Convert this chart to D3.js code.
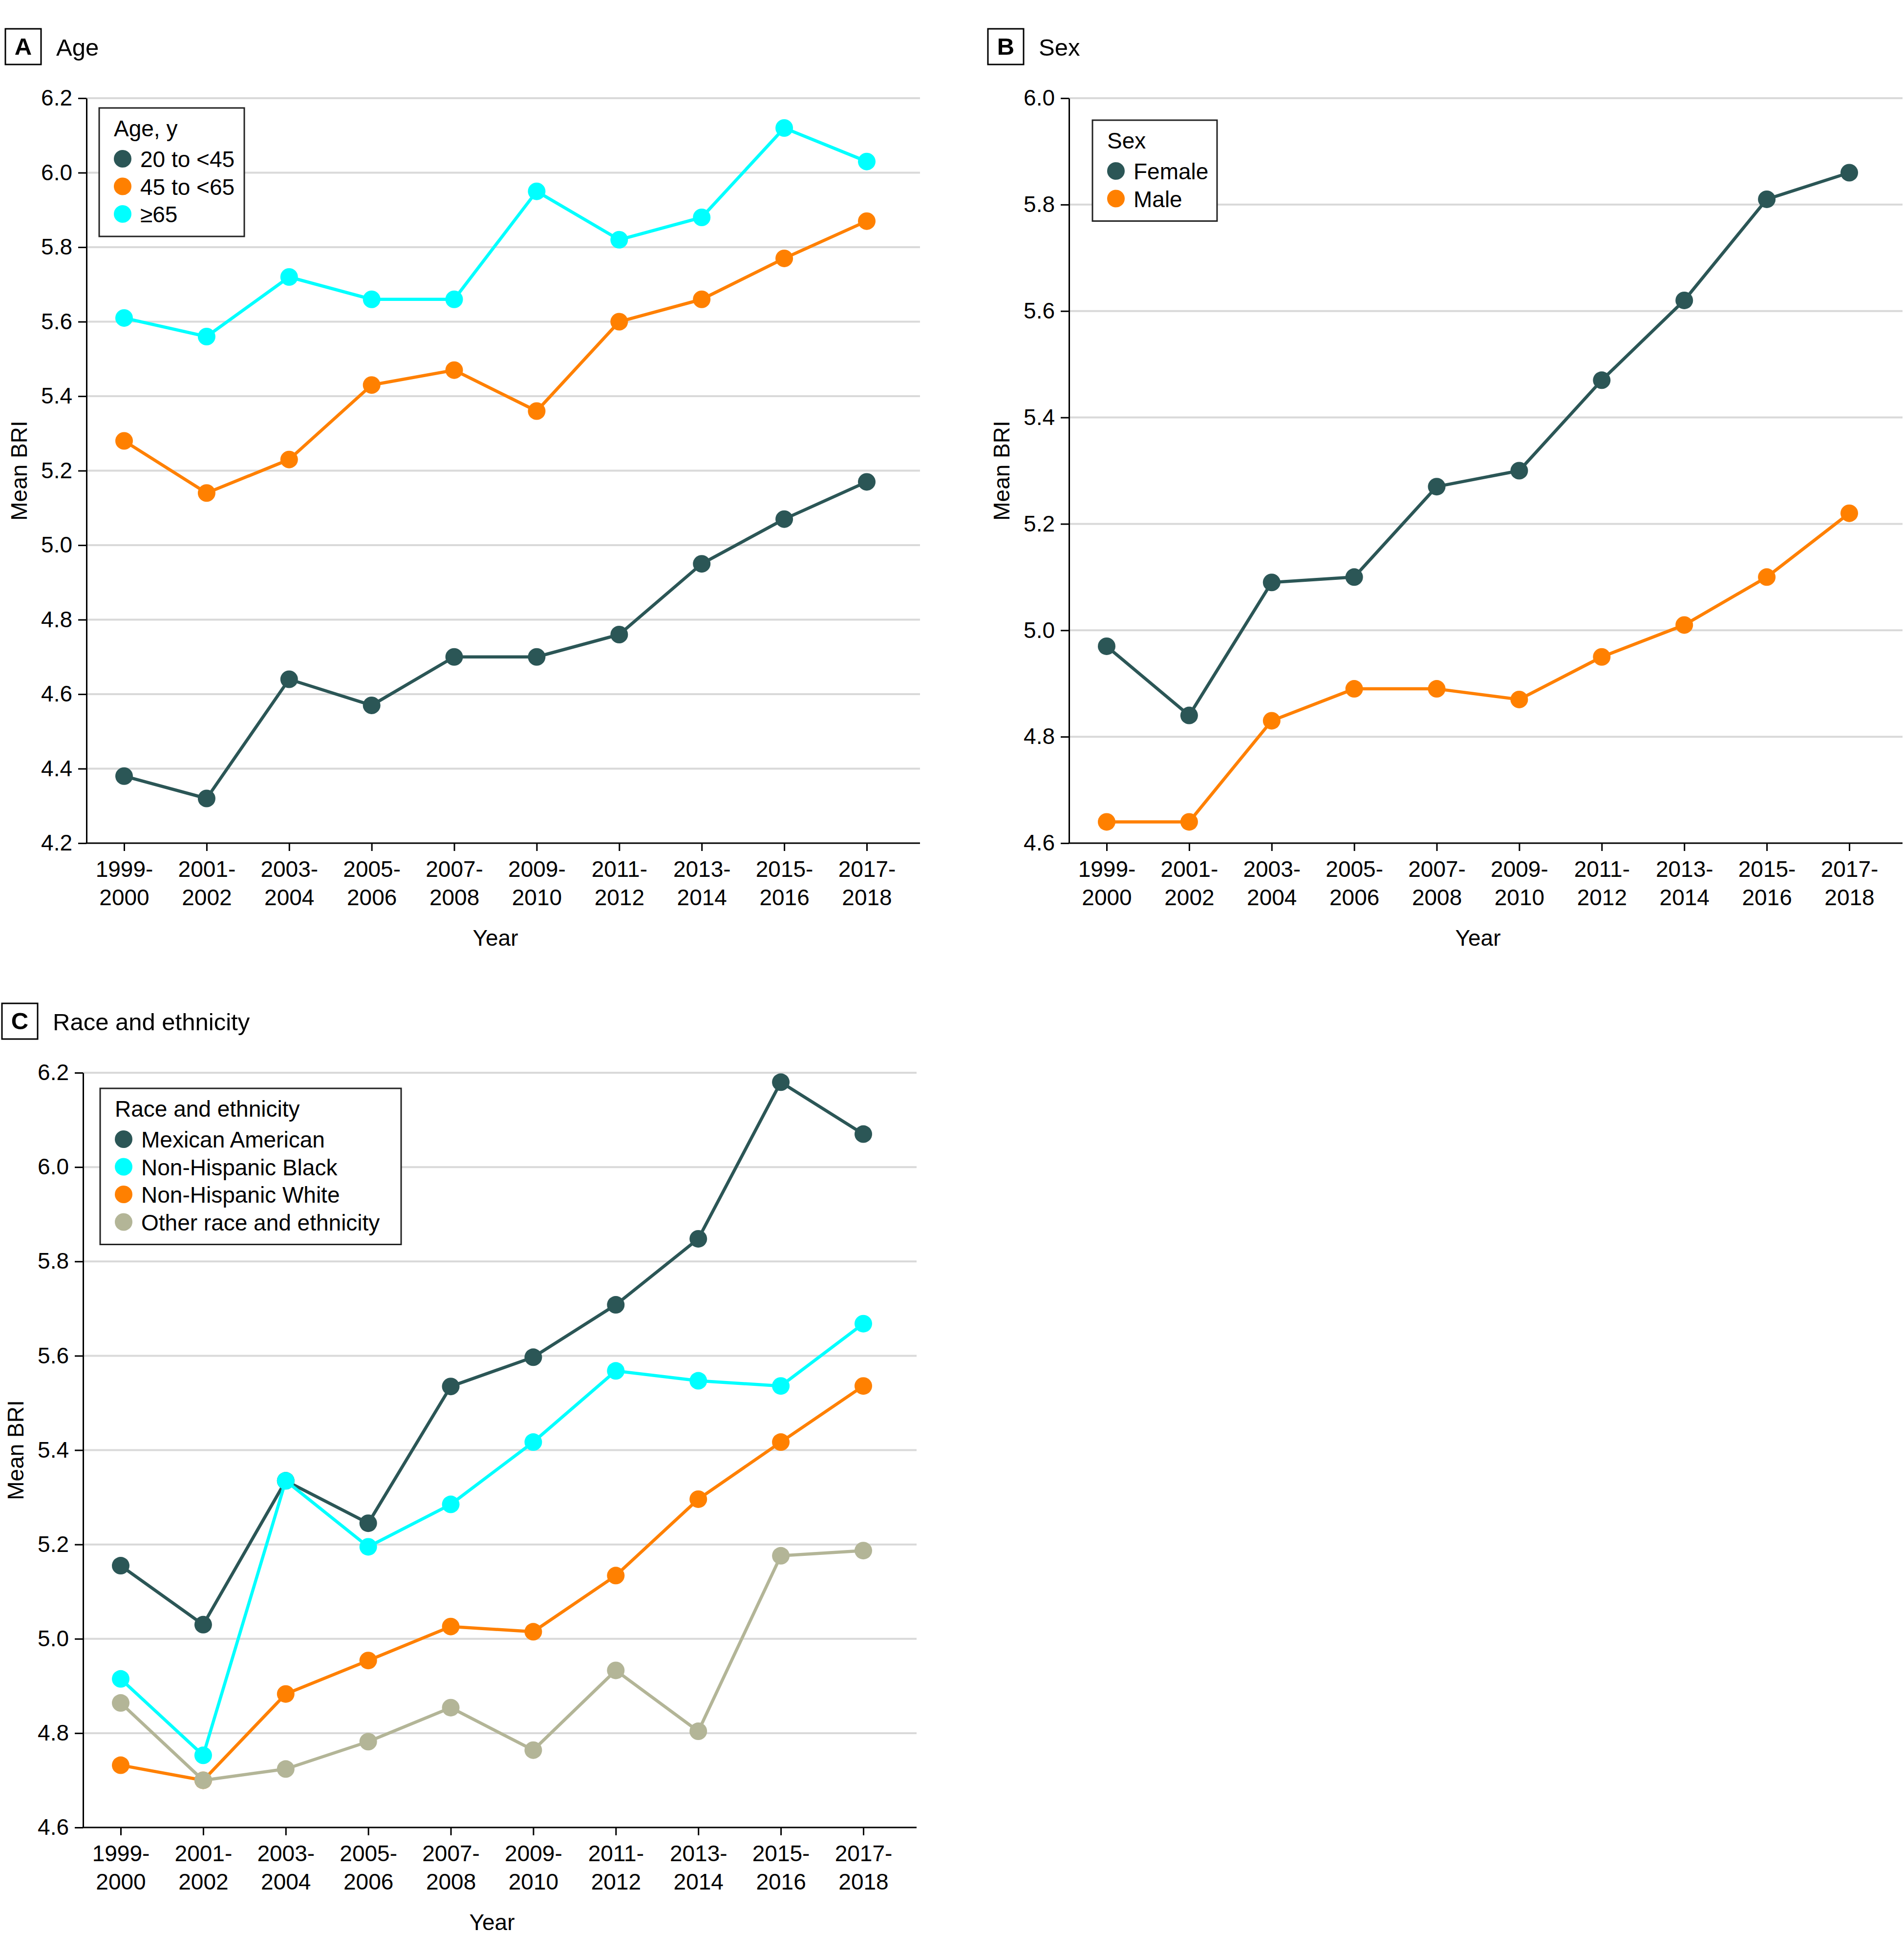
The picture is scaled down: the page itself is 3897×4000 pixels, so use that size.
<!DOCTYPE html>
<html><head><meta charset="utf-8">
<script src="https://cdn.jsdelivr.net/npm/d3@7"></script>
<style>
body{margin:0;background:#fff;}
svg text{font-family:"Liberation Sans", Arial, sans-serif; fill:#000;}
</style></head><body>
<svg id="chart" width="3897" height="4000"></svg>
<script>
// ---------- DATA ----------
const categories = ["1999-2000","2001-2002","2003-2004","2005-2006","2007-2008","2009-2010","2011-2012","2013-2014","2015-2016","2017-2018"];

// Panel A: Age
const ageNames = ["20 to <45","45 to <65","\u226565"];
const age20to45 = [4.38,4.32,4.64,4.57,4.70,4.70,4.76,4.95,5.07,5.17];
const age45to65 = [5.28,5.14,5.23,5.43,5.47,5.36,5.60,5.66,5.77,5.87];
const age65plus = [5.61,5.56,5.72,5.66,5.66,5.95,5.82,5.88,6.12,6.03];
const yTicksA = [4.2,4.4,4.6,4.8,5.0,5.2,5.4,5.6,5.8,6.0,6.2];

// Panel B: Sex
const sexNames = ["Female","Male"];
const female = [4.97,4.84,5.09,5.10,5.27,5.30,5.47,5.62,5.81,5.86];
const male   = [4.64,4.64,4.83,4.89,4.89,4.87,4.95,5.01,5.10,5.22];
const yTicksB = [4.6,4.8,5.0,5.2,5.4,5.6,5.8,6.0];

// Panel C: Race and ethnicity
const raceNames = ["Mexican American","Non-Hispanic Black","Non-Hispanic White","Other race and ethnicity"];
const mexicanAmerican  = [5.155,5.03,5.335,5.245,5.535,5.597,5.708,5.848,6.18,6.07];
const nonHispanicBlack = [4.915,4.753,5.335,5.195,5.285,5.417,5.568,5.547,5.536,5.668];
const nonHispanicWhite = [4.732,4.70,4.883,4.954,5.026,5.015,5.134,5.296,5.417,5.536];
const otherRace        = [4.864,4.70,4.724,4.782,4.854,4.764,4.933,4.804,5.176,5.187];
const yTicksC = [4.6,4.8,5.0,5.2,5.4,5.6,5.8,6.0,6.2];

// ---------- STYLE ----------
const DARK = "#2b5656", ORANGE = "#ff8000", CYAN = "#00ffff", KHAKI = "#b3b597";
const FS = 46, TITLE_FS = 49;

const svg = d3.select("#chart");

function drawPanel(p){
  const g = svg.append("g");
  const x = d3.scalePoint().domain(categories).range([p.left + 77, p.right - 109]);
  const y = d3.scaleLinear().domain(p.yDomain).range([p.bottom, p.top]);

  // gridlines
  g.append("g").selectAll("line").data(p.yTicks.filter(t => t > p.yDomain[0] + 1e-9)).join("line")
    .attr("x1", p.left).attr("x2", p.right)
    .attr("y1", d => y(d)).attr("y2", d => y(d))
    .attr("stroke", "#d9d9d9").attr("stroke-width", 4);

  // y axis
  const ya = g.append("g").attr("transform", `translate(${p.left},0)`)
    .call(d3.axisLeft(y).tickValues(p.yTicks).tickFormat(d3.format(".1f"))
      .tickSize(17).tickPadding(12).tickSizeOuter(0));
  ya.attr("font-size", null).attr("font-family", null);
  ya.select(".domain").attr("stroke", "#000").attr("stroke-width", 3);
  ya.selectAll(".tick line").attr("stroke", "#000").attr("stroke-width", 3);
  ya.selectAll(".tick text").attr("font-size", FS).attr("fill", "#000");

  // x axis
  const xa = g.append("g").attr("transform", `translate(0,${p.bottom})`)
    .call(d3.axisBottom(x).tickSize(16).tickSizeOuter(0));
  xa.attr("font-size", null).attr("font-family", null);
  xa.select(".domain").remove();
  xa.append("line").attr("x1", p.left - 1.5).attr("x2", p.right).attr("y1", 0).attr("y2", 0)
    .attr("stroke", "#000").attr("stroke-width", 3);
  xa.selectAll(".tick line").attr("stroke", "#000").attr("stroke-width", 3);
  xa.selectAll(".tick text").each(function(d){
    const parts = d.split("-");
    const t = d3.select(this).text(null).attr("y", 69).attr("dy", null)
      .attr("font-size", FS).attr("fill", "#000");
    t.append("tspan").attr("x", 0).text(parts[0] + "-");
    t.append("tspan").attr("x", 0).attr("dy", 58).text(parts[1]);
  });

  // axis titles
  g.append("text").attr("x", (x(categories[0]) + x(categories[categories.length-1])) / 2)
    .attr("y", p.bottom + 210).attr("text-anchor", "middle").attr("font-size", FS).text("Year");
  g.append("text").attr("transform", `translate(${p.left - 122},${(p.top + p.bottom) / 2}) rotate(-90)`)
    .attr("text-anchor", "middle").attr("font-size", FS).text("Mean BRI");

  // series
  const line = d3.line().x((d, i) => x(categories[i])).y(d => y(d));
  p.series.forEach(s => {
    const sg = g.append("g");
    sg.append("path").datum(s.values).attr("d", line)
      .attr("fill", "none").attr("stroke", s.color).attr("stroke-width", 6.5).attr("stroke-linejoin", "round");
    sg.selectAll("circle").data(s.values).join("circle")
      .attr("cx", (d, i) => x(categories[i])).attr("cy", d => y(d)).attr("r", 18).attr("fill", s.color);
  });

  // panel label
  const bx = p.left - 166, by = p.top - 142;
  g.append("rect").attr("x", bx).attr("y", by).attr("width", 73).attr("height", 73)
    .attr("fill", "#fff").attr("stroke", "#000").attr("stroke-width", 3);
  g.append("text").attr("x", bx + 36.5).attr("y", by + 53).attr("text-anchor", "middle")
    .attr("font-size", TITLE_FS).attr("font-weight", "bold").text(p.letter);
  g.append("text").attr("x", bx + 104).attr("y", by + 55).attr("font-size", TITLE_FS).text(p.title);

  // legend
  const lx = p.left + p.legend.dx, ly = p.top + p.legend.dy;
  const lg = g.append("g");
  lg.append("rect").attr("x", lx).attr("y", ly).attr("width", p.legend.w)
    .attr("height", 104 + (p.series.length - 1) * 56.5 + 46)
    .attr("fill", "#fff").attr("stroke", "#222").attr("stroke-width", 3);
  lg.append("text").attr("x", lx + 30).attr("y", ly + 58).attr("font-size", FS).text(p.legendTitle);
  p.series.forEach((s, i) => {
    const cy = ly + 104 + i * 56.5;
    lg.append("circle").attr("cx", lx + 48).attr("cy", cy).attr("r", 18).attr("fill", s.color);
    lg.append("text").attr("x", lx + 84).attr("y", cy + 17).attr("font-size", FS).text(s.name);
  });
}

drawPanel({
  letter: "A", title: "Age", legendTitle: "Age, y",
  left: 177, right: 1883, top: 201, bottom: 1726,
  yDomain: [4.2, 6.2], yTicks: yTicksA,
  legend: {dx: 26, dy: 20, w: 297},
  series: [
    {name: ageNames[0], values: age20to45, color: DARK},
    {name: ageNames[1], values: age45to65, color: ORANGE},
    {name: ageNames[2], values: age65plus, color: CYAN}
  ]
});

drawPanel({
  letter: "B", title: "Sex", legendTitle: "Sex",
  left: 2188, right: 3894, top: 201, bottom: 1726,
  yDomain: [4.6, 6.0], yTicks: yTicksB,
  legend: {dx: 48, dy: 45, w: 255},
  series: [
    {name: sexNames[0], values: female, color: DARK},
    {name: sexNames[1], values: male, color: ORANGE}
  ]
});

drawPanel({
  letter: "C", title: "Race and ethnicity", legendTitle: "Race and ethnicity",
  left: 170, right: 1876, top: 2196, bottom: 3741,
  yDomain: [4.6, 6.2], yTicks: yTicksC,
  legend: {dx: 35, dy: 32, w: 616},
  series: [
    {name: raceNames[0], values: mexicanAmerican, color: DARK},
    {name: raceNames[1], values: nonHispanicBlack, color: CYAN},
    {name: raceNames[2], values: nonHispanicWhite, color: ORANGE},
    {name: raceNames[3], values: otherRace, color: KHAKI}
  ]
});
</script>
</body></html>
